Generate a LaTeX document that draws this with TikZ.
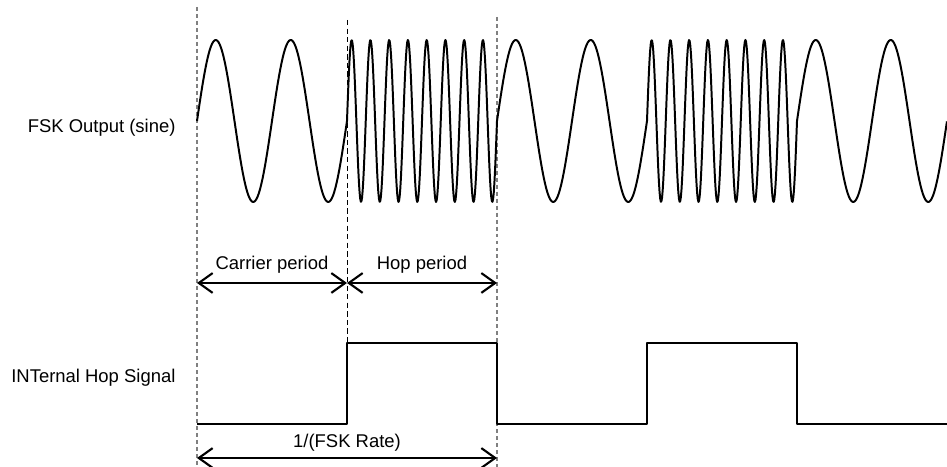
\documentclass[tikz,border=0pt]{standalone}
\usepackage{fontspec}
\setmainfont{Liberation Sans}
\usetikzlibrary{arrows.meta}

\begin{document}
\begin{tikzpicture}[font=\fontsize{14}{17}\selectfont, line join=round,
	>={Straight Barb[length=10.5pt,width=15pt]},
	wave/.style={line width=1.5pt},
	guide/.style={gray, line width=0.8pt, dash pattern=on 3pt off 2.3pt},
	span/.style={<->, line width=1.6pt}]
	\useasboundingbox (-5.253,0) rectangle (20,12.453);
	% time marks
	\coordinate (T0) at (0,0);
	\coordinate (T1) at (4,0);
	\coordinate (T2) at (8,0);
	% guide lines
	\draw[guide] (0,12.27) -- (T0);
	\draw[guide] (8,12.0) -- (T2);
	\draw[guide, black, line width=0.6pt, dash pattern=on 4pt off 2.5pt] (4,11.92) -- (4,3.307);
	% FSK output
	\node[anchor=base east] (fsk) at (-0.45,8.93) {FSK Output (sine)};
	\begin{scope}[yshift=9.227cm]
	\draw[wave] plot[domain=0:4, samples=120] (\x,{2.16*sin(180*\x)})
		-- plot[domain=4:8, samples=240] (\x,{2.16*sin(720*\x)})
		-- plot[domain=8:12, samples=120] (\x,{2.16*sin(180*\x)})
		-- plot[domain=12:16, samples=240] (\x,{2.16*sin(720*\x)})
		-- plot[domain=16:20, samples=120] (\x,{2.16*sin(180*\x)});
	\end{scope}
	% periods
	\coordinate (A0) at (0,4.907);
	\coordinate (A1) at (4,4.907);
	\coordinate (A2) at (8,4.907);
	\draw[span] (A0) -- (A1) node[midway, above=3pt] (carrier) {Carrier period};
	\draw[span] (A1) -- (A2) node[midway, above=3pt] (hop) {Hop period};
	% hop signal
	\node[anchor=base east] (hopsig) at (-0.45,2.24) {INTernal Hop Signal};
	\draw[wave] (0,1.147) -- (4,1.147) -- (4,3.307) -- (8,3.307) -- (8,1.147)
		-- (12,1.147) -- (12,3.307) -- (16,3.307) -- (16,1.147) -- (20,1.147);
	\coordinate (R0) at (0,0.24);
	\coordinate (R1) at (8,0.24);
	\draw[span] (R0) -- (R1) node[midway, above=1pt] (rate) {1/(FSK Rate)};
\end{tikzpicture}
\end{document}
